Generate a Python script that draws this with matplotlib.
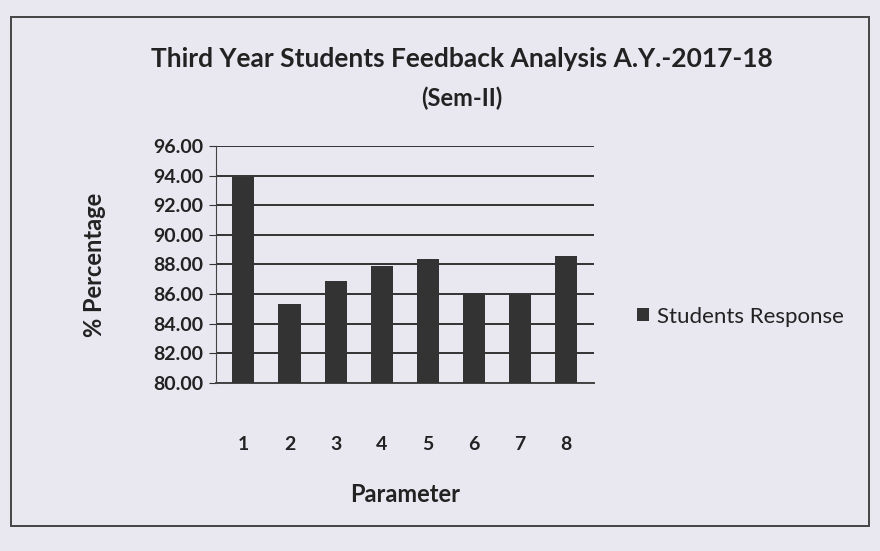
import matplotlib
matplotlib.use("Agg")
import matplotlib.pyplot as plt
from matplotlib.patches import Rectangle

categories = ["1", "2", "3", "4", "5", "6", "7", "8"]
values = [93.9, 85.3, 86.9, 87.9, 88.4, 86.1, 86.0, 88.6]
yticks = [80, 82, 84, 86, 88, 90, 92, 94, 96]
series_name = "Students Response"

plt.rcParams['font.family'] = ['Lato', 'DejaVu Sans']
bg = '#e9e7f0'
fig = plt.figure(figsize=(8.8, 5.51), dpi=100, facecolor=bg)
fig.patches.append(Rectangle((0.012, 0.045), 0.976, 0.925, transform=fig.transFigure,
                             fill=False, edgecolor='#444444', linewidth=1.4))

ax = fig.add_axes([0.245, 0.305, 0.43, 0.43], facecolor=bg)
x = range(len(categories))
ax.bar(x, values, width=0.48, color='#333333', label=series_name, zorder=3)
ax.set_ylim(80, 96)
ax.set_xlim(-0.6, len(categories) - 0.4)
ax.set_yticks(yticks)
ax.set_yticklabels([f"{v:.2f}" for v in yticks], fontsize=14, fontweight='bold', color='#222222')
ax.set_xticks(list(x))
ax.set_xticklabels(categories, fontsize=14, fontweight='bold', color='#222222')
ax.tick_params(axis='x', length=0, pad=38)
ax.tick_params(axis='y', length=5, direction='out', color='#333333', pad=4)
ax.grid(axis='y', color='#333333', linewidth=1.4, zorder=0)
for s in ['top', 'right']:
    ax.spines[s].set_visible(False)
ax.spines['left'].set_color('#444444')
ax.spines['bottom'].set_color('#444444')
ax.spines['bottom'].set_linewidth(1.4)

ax.set_ylabel("% Percentage", fontsize=17, fontweight='bold', color='#222222', labelpad=34)
ax.set_xlabel("Parameter", fontsize=17, fontweight='bold', color='#222222', labelpad=22)
fig.text(0.525, 0.893, "Third Year Students Feedback Analysis A.Y.-2017-18",
         ha='center', va='center', fontsize=19, fontweight='bold', color='#222222')
fig.text(0.525, 0.822, "(Sem-II)", ha='center', va='center', fontsize=17,
         fontweight='bold', color='#222222')

leg = ax.legend(loc='center left', bbox_to_anchor=(1.06, 0.28), frameon=False,
                fontsize=16, handlelength=0.55, handleheight=0.55, handletextpad=0.35)
for t in leg.get_texts():
    t.set_color('#222222')

fig.savefig("out.png", dpi=100, facecolor=bg)
